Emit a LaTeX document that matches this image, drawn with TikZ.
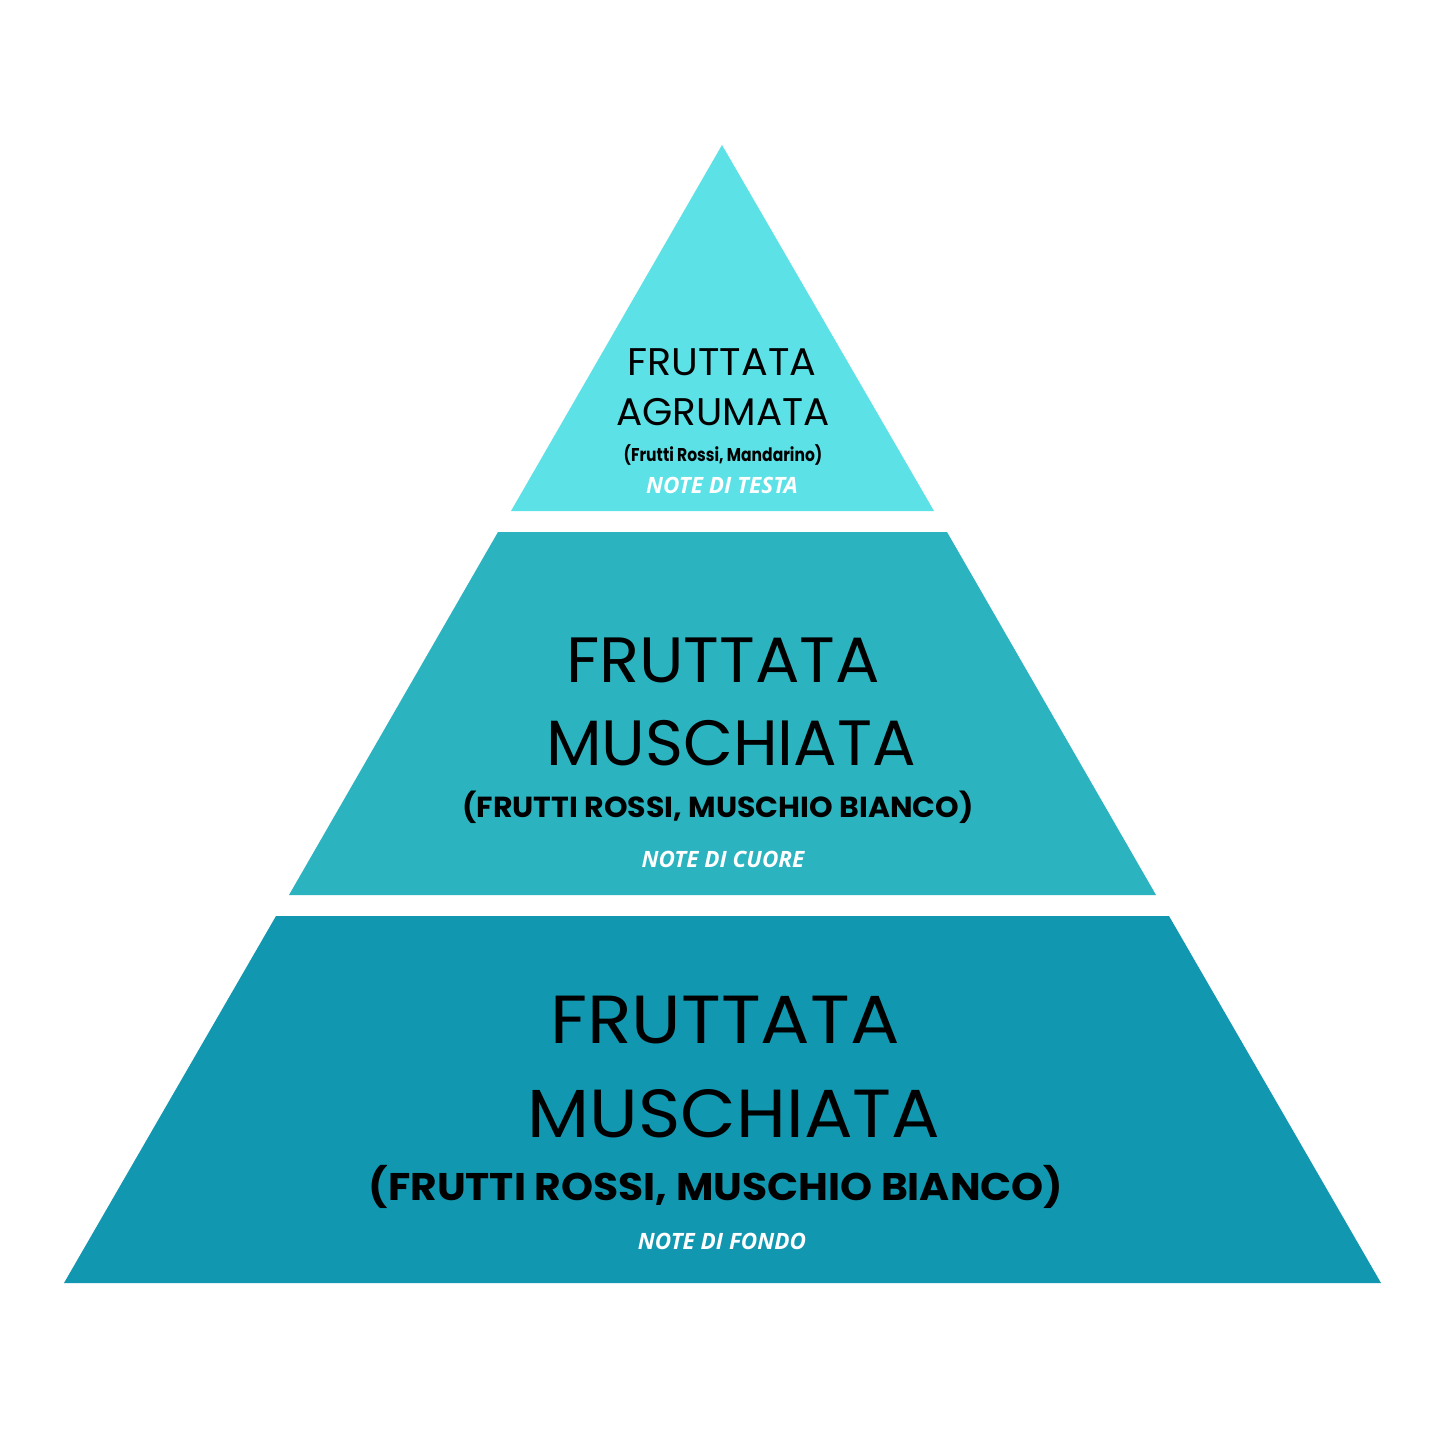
\documentclass[tikz,border=0pt]{standalone}
\usepackage{fontspec}
\usepackage{graphicx}
\newfontfamily\pop{Poppins}
\newfontfamily\opensans{Open Sans}
\definecolor{ctop}{HTML}{5CE1E6}
\definecolor{cmid}{HTML}{2BB3BF}
\definecolor{cbot}{HTML}{1297B0}
\begin{document}
\begin{tikzpicture}[x=1pt,y=-1pt,
  title/.style={anchor=base,inner sep=0pt,font=\pop},
  sub/.style={anchor=base,inner sep=0pt,font=\pop\bfseries},
  note/.style={anchor=base,inner sep=0pt,text=white,font=\opensans\bfseries\itshape\fontsize{22.5}{22.5}\selectfont}]
\useasboundingbox[fill=white] (0,0) rectangle (1445,1445);
\fill[ctop] (722,145) -- (934,511) -- (511,511) -- cycle;
\fill[cmid] (498,532) -- (947,532) -- (1156,895) -- (289,895) -- cycle;
\fill[cbot] (276,916) -- (1169,916) -- (1381,1283) -- (64,1283) -- cycle;
% top
\node[title,font=\pop\fontsize{38.5}{38.5}\selectfont] (t1) at (722,375) {\scalebox{1.03}[1]{FRUTTATA}};
\node[title,font=\pop\fontsize{38.5}{38.5}\selectfont] (t2) at (723,425) {\scalebox{1.01}[1]{AGRUMATA}};
\node[sub,font=\pop\bfseries\fontsize{18.5}{18.5}\selectfont] (t3) at (723,461) {\scalebox{0.84}[1]{(Frutti Rossi, Mandarino)}};
\node[note] (t4) at (722,493) {NOTE DI TESTA};
% middle
\node[title,font=\pop\fontsize{64}{64}\selectfont] (m1) at (723,682) {\scalebox{1.03}[1]{FRUTTATA}};
\node[title,font=\pop\fontsize{64}{64}\selectfont] (m2) at (731,765) {\scalebox{1.01}[1]{MUSCHIATA}};
\node[sub,font=\pop\bfseries\fontsize{29}{29}\selectfont] (m3) at (718,817) {\scalebox{1.035}[1]{(FRUTTI ROSSI, MUSCHIO BIANCO)}};
\node[note] (m4) at (723,867) {NOTE DI CUORE};
% bottom
\node[title,font=\pop\fontsize{68}{68}\selectfont] (b1) at (725,1043) {\scalebox{1.08}[1]{FRUTTATA}};
\node[title,font=\pop\fontsize{68}{68}\selectfont] (b2) at (734,1137) {\scalebox{1.06}[1]{MUSCHIATA}};
\node[sub,font=\pop\bfseries\fontsize{38.5}{38.5}\selectfont] (b3) at (716,1200) {\scalebox{1.06}[1]{(FRUTTI ROSSI, MUSCHIO BIANCO)}};
\node[note] (b4) at (722,1249) {NOTE DI FONDO};
\end{tikzpicture}
\end{document}
